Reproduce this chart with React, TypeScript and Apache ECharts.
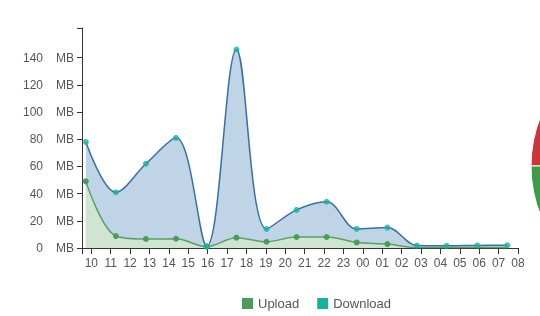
import React, { useEffect, useRef } from "react";
import * as echarts from "echarts";

const times = ["09:43", "11:16", "12:49", "14:22", "15:57", "17:29", "19:02", "20:35", "22:08", "23:41", "01:16", "02:47", "04:19", "05:54", "07:27"];
const downloadMB = [78, 41, 62, 81, 1.2, 146, 14, 28, 34, 14, 15, 1.8, 1.6, 1.9, 2];
const uploadMB = [49, 8.8, 6.6, 6.8, 1, 7.6, 4.6, 8.1, 8.1, 4.1, 2.9, 0.3, 0.3, 0.3, 0.3];
const hourTicks = [10, 11, 12, 13, 14, 15, 16, 17, 18, 19, 20, 21, 22, 23, 24, 25, 26, 27, 28, 29, 30, 31, 32];
const yTicks = [0, 20, 40, 60, 80, 100, 120, 140];
const pieNames = ["Upload", "Download"];
const pieValues = [50, 50];

const X_MIN = 9.52;
const X_MAX = 32;
const Y_MAX = 161.8;

function toHours(t: string): number {
  const [h, m] = t.split(":").map(Number);
  let v = h + m / 60;
  if (v < 9) v += 24;
  return v;
}

const FONT = "'Liberation Sans', Arial, sans-serif";

export default function App() {
  const ref = useRef<HTMLDivElement>(null);
  useEffect(() => {
    if (!ref.current) return;
    const chart = echarts.init(ref.current, undefined, { renderer: "svg" });
    const xs = times.map(toHours);
    const dl = xs.map((x, i) => [x, downloadMB[i]]);
    const ul = xs.map((x, i) => [x, uploadMB[i]]);
    chart.setOption({
      animation: false,
      textStyle: { fontFamily: FONT },
      legend: {
        data: ["Upload", "Download"],
        left: 237,
        top: 292,
        itemWidth: 11,
        itemHeight: 11,
        itemGap: 18,
        icon: "rect",
        textStyle: { color: "#555", fontSize: 13, fontFamily: FONT },
      },
      grid: { left: 82, right: 22, top: 28, bottom: 68 },
      xAxis: {
        type: "value",
        min: X_MIN,
        max: X_MAX,
        splitLine: { show: false },
        axisLine: { lineStyle: { color: "#333", width: 1 } },
        axisTick: {
          show: true,
          length: 6,
          lineStyle: { color: "#333" },
          customValues: [X_MIN, ...hourTicks],
        },
        axisLabel: {
          color: "#555",
          fontSize: 12,
          fontFamily: FONT,
          margin: 9,
          customValues: hourTicks,
          formatter: (v: number) => String(Math.round(v) % 24).padStart(2, "0"),
        },
      },
      yAxis: {
        type: "value",
        min: 0,
        max: Y_MAX,
        splitLine: { show: false },
        axisLine: { show: true, lineStyle: { color: "#333", width: 1 } },
        axisTick: {
          show: true,
          length: 5,
          lineStyle: { color: "#333" },
          customValues: [...yTicks, Y_MAX],
        },
        axisLabel: {
          color: "#555",
          fontSize: 12,
          fontFamily: FONT,
          margin: 8,
          customValues: yTicks,
          formatter: (v: number) => `{n|${v}}{u|MB}`,
          rich: {
            n: { width: 30, align: "right", color: "#555", fontSize: 12, fontFamily: FONT },
            u: { width: 31, align: "right", color: "#555", fontSize: 12, fontFamily: FONT },
          },
        },
      },
      series: [
        {
          name: "Download",
          type: "line",
          data: dl,
          smooth: 0.35,
          showSymbol: false,
          symbol: "circle",
          itemStyle: { color: "#14b39b" },
          lineStyle: { color: "#3a6ea6", width: 1.5 },
          areaStyle: { color: "#c0d4e7", opacity: 1 },
          z: 2,
        },
        {
          name: "Upload",
          type: "line",
          data: ul,
          smooth: 0.35,
          symbol: "circle",
          symbolSize: (v: number[]) => (v[1] < 0.5 ? 0 : 6),
          itemStyle: { color: "#4e9a5c" },
          lineStyle: { color: "#5aa064", width: 1.5 },
          areaStyle: { color: "#cfe5d1", opacity: 1 },
          z: 3,
        },
        {
          name: "DownloadPoints",
          type: "scatter",
          data: dl,
          symbol: "circle",
          symbolSize: 6,
          itemStyle: { color: "#14b39b" },
          z: 4,
        },
        {
          name: "Share",
          type: "pie",
          center: [664, 166],
          radius: 133,
          startAngle: 180,
          clockwise: true,
          label: { show: false },
          labelLine: { show: false },
          itemStyle: { borderColor: "#fff", borderWidth: 1 },
          color: ["#c9363e", "#3f9a47"],
          data: pieNames.map((n, i) => ({ name: n, value: pieValues[i] })),
          silent: true,
        },
      ],
    });
    return () => chart.dispose();
  }, []);
  return <div ref={ref} style={{ position: "fixed", left: 0, top: 0, width: 540, height: 316 }} />;
}
